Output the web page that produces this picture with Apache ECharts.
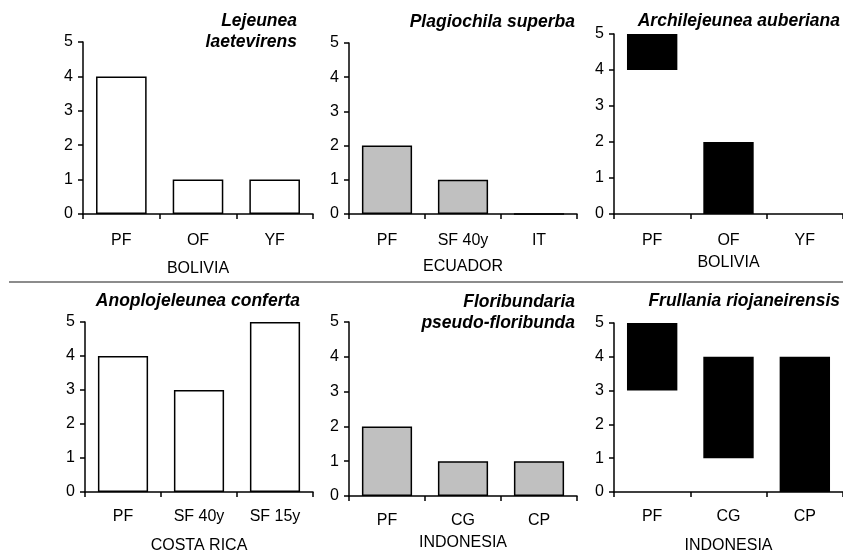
<!DOCTYPE html>
<html>
<head>
<meta charset="utf-8">
<script src="https://cdn.jsdelivr.net/npm/echarts@6/dist/echarts.min.js"></script>
<style>
html,body{margin:0;padding:0;background:#fff;}
#chart{width:843px;height:555px;}
</style>
</head>
<body>
<div id="chart"></div>
<script>
// ---- data ----
const catsBolivia = ['PF', 'OF', 'YF'];
const catsEcuador = ['PF', 'SF 40y', 'IT'];
const catsCostaRica = ['PF', 'SF 40y', 'SF 15y'];
const catsIndonesia = ['PF', 'CG', 'CP'];

const countries = ['BOLIVIA', 'ECUADOR', 'BOLIVIA', 'COSTA RICA', 'INDONESIA', 'INDONESIA'];
const species = ['Lejeunea\nlaetevirens', 'Plagiochila superba', 'Archilejeunea auberiana',
                 'Anoplojeleunea conferta', 'Floribundaria\npseudo-floribunda', 'Frullania riojaneirensis'];

const lejeuneaValues = [4, 1, 1];
const plagiochilaValues = [2, 1, 0];
const archilejeuneaLow = [4, 0, null];
const archilejeuneaHigh = [5, 2, null];
const anoplojeleuneaValues = [4, 3, 5];
const floribundariaValues = [2, 1, 1];
const frullaniaLow = [3, 1, 0];
const frullaniaHigh = [5, 4, 4];

const yMin = 0, yMax = 5, yStep = 1;

// ---- layout ----
const FONT = '"Liberation Sans", Arial, sans-serif';
const grids = [
  {left: 83,  top: 42,  width: 230, height: 172},
  {left: 349, top: 43,  width: 228, height: 171},
  {left: 614, top: 34,  width: 229, height: 180},
  {left: 85,  top: 322, width: 228, height: 172},
  {left: 349, top: 322, width: 228, height: 174},
  {left: 614, top: 323, width: 229, height: 171}
];
const cats = [catsBolivia, catsEcuador, catsBolivia, catsCostaRica, catsIndonesia, catsIndonesia];
const nameGaps = [47, 45, 41, 46, 39, 46];
const labelMargins = [19, 19, 19, 17, 17, 17];

const xAxes = grids.map((g, i) => ({
  type: 'category', gridIndex: i, data: cats[i],
  name: countries[i], nameLocation: 'middle', nameGap: nameGaps[i],
  nameTextStyle: {color: '#000', fontSize: 16, fontFamily: FONT},
  axisLine: {lineStyle: {color: '#000', width: 1.5}},
  axisTick: {show: true, length: 5, lineStyle: {color: '#000', width: 1.5}},
  axisLabel: {color: '#000', fontSize: 16, fontFamily: FONT, margin: labelMargins[i]},
  splitLine: {show: false}
}));
const yAxes = grids.map((g, i) => ({
  type: 'value', gridIndex: i, min: yMin, max: yMax, interval: yStep,
  axisLine: {show: true, lineStyle: {color: '#000', width: 1.5}},
  axisTick: {show: true, length: 5, lineStyle: {color: '#000', width: 1.5}},
  axisLabel: {color: '#000', fontSize: 16, fontFamily: FONT, margin: 10},
  splitLine: {show: false}
}));

const barW = '66%';
function plainBar(i, data, color) {
  return {
    type: 'bar', xAxisIndex: i, yAxisIndex: i, data: data, barWidth: barW,
    itemStyle: {color: color, borderColor: '#000', borderWidth: 1.5},
    silent: true
  };
}
function floatBars(i, low, high) {
  const stack = 's' + i;
  return [
    {type: 'bar', xAxisIndex: i, yAxisIndex: i, stack: stack, barWidth: barW,
     data: low, itemStyle: {color: 'transparent'}, silent: true},
    {type: 'bar', xAxisIndex: i, yAxisIndex: i, stack: stack, barWidth: barW,
     data: high.map((h, k) => (h == null ? null : h - low[k])),
     itemStyle: {color: '#000'}, silent: true}
  ];
}

const series = [
  plainBar(0, lejeuneaValues, '#ffffff'),
  plainBar(1, plagiochilaValues, '#c0c0c0'),
  ...floatBars(2, archilejeuneaLow, archilejeuneaHigh),
  plainBar(3, anoplojeleuneaValues, '#ffffff'),
  plainBar(4, floribundariaValues, '#c0c0c0'),
  ...floatBars(5, frullaniaLow, frullaniaHigh)
];

const titlePos = [
  {x: 297, y: 11}, {x: 575, y: 12}, {x: 840, y: 11},
  {x: 300, y: 291}, {x: 575, y: 292}, {x: 840, y: 291}
];
const graphics = species.map((s, i) => ({
  type: 'text', silent: true,
  style: {
    text: s, x: titlePos[i].x, y: titlePos[i].y,
    align: 'right', verticalAlign: 'top',
    font: 'italic bold 17.5px ' + FONT, lineHeight: 21, fill: '#000'
  }
}));
graphics.push({
  type: 'line', silent: true,
  shape: {x1: 9, y1: 282, x2: 843, y2: 282},
  style: {stroke: '#8c8c8c', lineWidth: 2}
});

const chart = echarts.init(document.getElementById('chart'), null, {renderer: 'canvas'});
chart.setOption({
  animation: false,
  backgroundColor: '#fff',
  grid: grids.map(g => Object.assign({containLabel: false}, g)),
  xAxis: xAxes,
  yAxis: yAxes,
  series: series,
  graphic: graphics
});
</script>
</body>
</html>
